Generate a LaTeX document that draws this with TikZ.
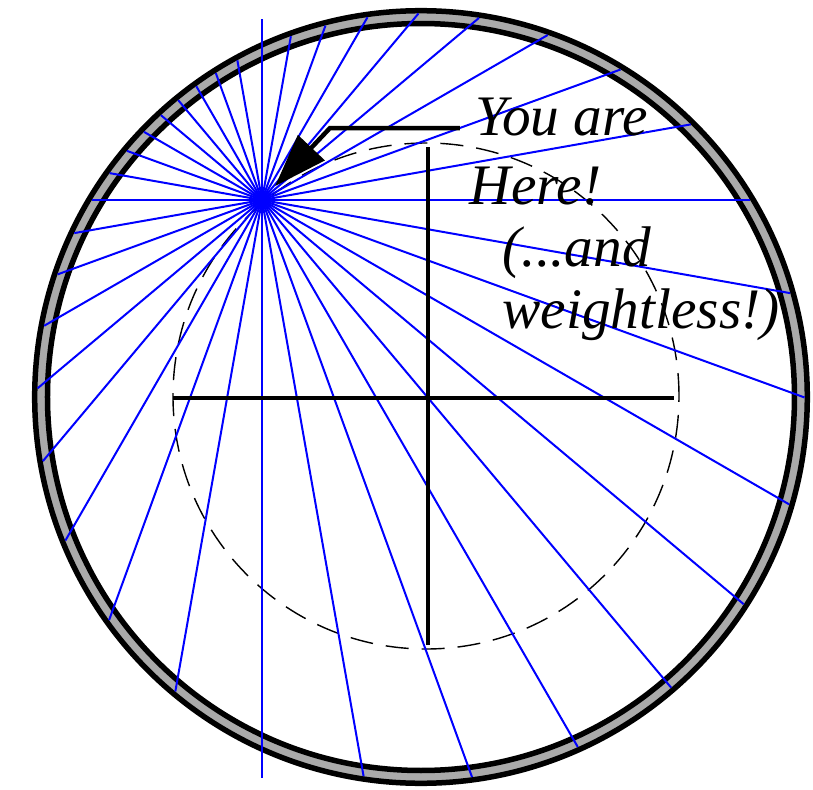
\documentclass[tikz,border=0pt]{standalone}
\usepackage{fontspec}
\setmainfont{Liberation Serif}
\usetikzlibrary{arrows.meta}
\definecolor{rimgray}{RGB}{170,170,170}
\begin{document}
\begin{tikzpicture}[
  spoke/.style={blue, line width=0.02cm},
  rimline/.style={line width=0.055cm},
  saying/.style={font=\fontsize{16.3}{18}\selectfont\itshape, inner sep=0pt, anchor=base west}]
  \useasboundingbox (-4.21,-3.93) rectangle (3.92,3.97);
  % Rim: grey band between two black circles.
  \draw[rimgray, line width=0.12cm] (0,0) circle (3.80);
  \draw[rimline] (0,0) circle (3.863);
  \draw[rimline] (0,0) circle (3.735);
  \draw[thin, dash pattern=on 0.23cm off 0.13cm] (0.05,0.01) circle (2.53);
  % Sight lines from the observer out to the rim.
  \coordinate (hub) at (-1.59,1.97);
  \foreach \a in {0,10,...,350}{
    \pgfmathsetmacro\proj{-1.59*cos(\a)+1.97*sin(\a)}
    \pgfmathsetmacro\len{sqrt((\proj)*(\proj)+8.298)-(\proj)}
    \draw[spoke] (hub) -- ++(\a:\len);
  }
  \draw[spoke] (-1.59,3.78) -- (-1.59,-3.81);
  \draw[line width=0.045cm] (-2.48,-0.01) -- (2.53,-0.01);
  \draw[line width=0.045cm] (0.07,2.50) -- (0.07,-2.48);
  \node[saying] (you) at (0.54,2.62) {You are};
  \node[saying] (here) at (0.48,1.93) {Here!};
  \node[saying] (and) at (0.81,1.31) {(...and};
  \node[saying] (weight) at (0.81,0.69) {weightless!)};
  \draw[line width=0.045cm, shorten >=0.19cm, -{Triangle[length=0.53cm, width=0.36cm]}]
    ([shift={(-0.15,0.07)}]you.base west) -- ++(-1.30,0) -- (hub);
\end{tikzpicture}
\end{document}
